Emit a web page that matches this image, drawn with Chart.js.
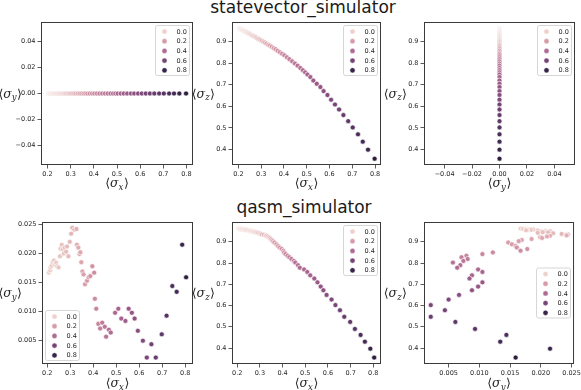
<!DOCTYPE html>
<html>
<head>
<meta charset="utf-8">
<script src="https://cdn.jsdelivr.net/npm/chart.js@4/dist/chart.umd.min.js"></script>
<style>
  body { margin: 0; background: #fff; width: 581px; height: 390px; overflow: hidden; position: relative; font-family: "DejaVu Sans"; }
  .title { position: absolute; font-size: 17px; line-height: 1; color: #1a1a1a; transform: translateX(-50%); white-space: nowrap; }
  canvas { position: absolute; }
</style>
</head>
<body>
<div class="title" style="left:303px; top:-1px">statevector_simulator</div>
<div class="title" style="left:304px; top:199px">qasm_simulator</div>
<script>
// hue parameter, shared by both simulators
const hueT = [0.000, 0.010, 0.013, 0.015, 0.018, 0.022, 0.025, 0.029, 0.034, 0.038, 0.042, 0.046, 0.052, 0.056, 0.062, 0.067,
  0.073, 0.078, 0.085, 0.091, 0.098, 0.105, 0.112, 0.120, 0.127, 0.136, 0.144, 0.154, 0.162, 0.172, 0.183, 0.193,
  0.204, 0.217, 0.228, 0.241, 0.255, 0.269, 0.283, 0.298, 0.314, 0.330, 0.347, 0.364, 0.381, 0.396, 0.410, 0.424,
  0.442, 0.461, 0.482, 0.504, 0.524, 0.547, 0.570, 0.594, 0.619, 0.645, 0.675, 0.703, 0.735, 0.764, 0.797, 0.837];

// statevector_simulator
const svX = [0.205, 0.207, 0.209, 0.211, 0.213, 0.216, 0.218, 0.221, 0.224, 0.227, 0.230, 0.233, 0.237, 0.240, 0.244, 0.248,
  0.252, 0.256, 0.261, 0.265, 0.270, 0.275, 0.280, 0.286, 0.291, 0.297, 0.303, 0.310, 0.316, 0.323, 0.331, 0.338,
  0.346, 0.355, 0.363, 0.372, 0.382, 0.392, 0.402, 0.413, 0.424, 0.436, 0.448, 0.460, 0.472, 0.483, 0.493, 0.503,
  0.516, 0.529, 0.544, 0.560, 0.574, 0.591, 0.607, 0.624, 0.642, 0.661, 0.682, 0.702, 0.725, 0.746, 0.769, 0.798];
const svY = [0, 0, 0, 0, 0, 0, 0, 0, 0, 0, 0, 0, 0, 0, 0, 0,
  0, 0, 0, 0, 0, 0, 0, 0, 0, 0, 0, 0, 0, 0, 0, 0,
  0, 0, 0, 0, 0, 0, 0, 0, 0, 0, 0, 0, 0, 0, 0, 0,
  0, 0, 0, 0, 0, 0, 0, 0, 0, 0, 0, 0, 0, 0, 0, 0];
const svZ = [0.960, 0.959, 0.958, 0.957, 0.956, 0.954, 0.953, 0.951, 0.950, 0.948, 0.946, 0.945, 0.942, 0.941, 0.938, 0.936,
  0.934, 0.931, 0.928, 0.926, 0.923, 0.920, 0.917, 0.913, 0.910, 0.907, 0.903, 0.899, 0.895, 0.890, 0.885, 0.881,
  0.875, 0.869, 0.864, 0.857, 0.850, 0.843, 0.836, 0.827, 0.818, 0.808, 0.798, 0.788, 0.777, 0.767, 0.757, 0.747,
  0.735, 0.719, 0.704, 0.689, 0.670, 0.652, 0.630, 0.608, 0.585, 0.559, 0.531, 0.502, 0.470, 0.436, 0.399, 0.357];

// qasm_simulator
const qX = [0.207, 0.212, 0.214, 0.219, 0.223, 0.229, 0.233, 0.239, 0.243, 0.249, 0.255, 0.258, 0.263, 0.268, 0.272, 0.276,
  0.282, 0.286, 0.292, 0.298, 0.304, 0.309, 0.318, 0.327, 0.329, 0.335, 0.340, 0.344, 0.348, 0.353, 0.358, 0.364,
  0.373, 0.380, 0.387, 0.396, 0.404, 0.407, 0.413, 0.422, 0.430, 0.439, 0.450, 0.456, 0.468, 0.476, 0.495, 0.509,
  0.522, 0.540, 0.554, 0.568, 0.580, 0.594, 0.616, 0.633, 0.653, 0.672, 0.698, 0.719, 0.744, 0.763, 0.787, 0.804];
const qY = [0.0167, 0.0171, 0.0176, 0.0179, 0.0185, 0.0188, 0.0181, 0.0184, 0.0178, 0.0176, 0.0195, 0.0208, 0.0215, 0.0207, 0.0200, 0.0210,
  0.0203, 0.0212, 0.0195, 0.0220, 0.0234, 0.0244, 0.0241, 0.0242, 0.0215, 0.0210, 0.0199, 0.0202, 0.0185, 0.0169, 0.0164, 0.0147,
  0.0153, 0.0159, 0.0161, 0.0178, 0.0167, 0.0122, 0.0105, 0.0079, 0.0071, 0.0081, 0.0074, 0.0057, 0.0069, 0.0064, 0.0098, 0.0105,
  0.0088, 0.0084, 0.0105, 0.0098, 0.0088, 0.0067, 0.0050, 0.0021, 0.0044, 0.0021, 0.0061, 0.0093, 0.0144, 0.0134, 0.0215, 0.0159];
const qZ = [0.962, 0.961, 0.960, 0.960, 0.959, 0.958, 0.957, 0.956, 0.955, 0.954, 0.953, 0.952, 0.950, 0.949, 0.948, 0.947,
  0.945, 0.944, 0.942, 0.940, 0.937, 0.935, 0.933, 0.930, 0.928, 0.925, 0.921, 0.918, 0.913, 0.908, 0.903, 0.897,
  0.888, 0.880, 0.873, 0.866, 0.858, 0.850, 0.842, 0.834, 0.827, 0.819, 0.810, 0.802, 0.790, 0.778, 0.770, 0.758,
  0.742, 0.727, 0.709, 0.689, 0.672, 0.650, 0.628, 0.602, 0.578, 0.547, 0.523, 0.490, 0.462, 0.430, 0.397, 0.355];

// ticks and legend entries
const legendValues = [0.0, 0.2, 0.4, 0.6, 0.8];
const ticksSigma = [0.2, 0.3, 0.4, 0.5, 0.6, 0.7, 0.8];
const ticksZ = [0.4, 0.5, 0.6, 0.7, 0.8, 0.9];
const ticksZero = [-0.04, -0.02, 0, 0.02, 0.04];
const ticksSmall = [0.005, 0.010, 0.015, 0.020, 0.025];

const tMin = Math.min(...hueT), tMax = Math.max(...hueT);

// seaborn default cubehelix map (light=.85 -> dark=.15)
function hueColor(v) {
  const f = (v - tMin) / (tMax - tMin);
  const x = 0.85 + (0.15 - 0.85) * f;
  const a = 0.8 * x * (1 - x) / 2;
  const phi = 2 * Math.PI * (0.4 * x);
  const c = Math.cos(phi), s = Math.sin(phi);
  const ch = [x + a * (-0.14861 * c + 1.78277 * s), x + a * (-0.29227 * c - 0.90649 * s), x + a * (1.97294 * c)];
  const rgb = ch.map(k => Math.round(Math.max(0, Math.min(1, k)) * 255));
  return `rgb(${rgb[0]},${rgb[1]},${rgb[2]})`;
}

const fmt = d => v => (v < 0 ? '\u2212' : '') + Math.abs(v).toFixed(d);

function axis(range, ticks, digits, dir, size) {
  return {
    type: 'linear',
    min: range[0],
    max: range[1],
    afterBuildTicks: s => { s.ticks = ticks.map(v => ({ value: v })); },
    afterFit: s => { if (dir === 'x') s.height = size; else s.width = size; },
    grid: { display: true, drawOnChartArea: false, drawTicks: true, tickLength: 3.5, tickWidth: 0.8, tickColor: '#333' },
    border: { display: false },
    ticks: { callback: fmt(digits), autoSkip: false, maxRotation: 0, padding: 2, color: '#262626', font: { family: 'DejaVu Sans', size: 6.5 } }
  };
}

function mathLabel(ctx, sub, x, y, align) {
  const br = '12.5px "DejaVu Sans"', sg = 'italic 12.5px "DejaVu Serif"', sb = 'italic 8.5px "DejaVu Serif"';
  ctx.font = br; const w1 = ctx.measureText('\u27e8').width, w4 = ctx.measureText('\u27e9').width;
  ctx.font = sg; const w2 = ctx.measureText('\u03c3').width;
  ctx.font = sb; const w3 = ctx.measureText(sub).width;
  const total = w1 + w2 + w3 + w4 + 0.5;
  let sx = align === 'right' ? x - total : x - total / 2;
  const base = y + 4;
  ctx.fillStyle = '#262626';
  ctx.textAlign = 'left';
  ctx.textBaseline = 'alphabetic';
  ctx.font = br; ctx.fillText('\u27e8', sx, base); sx += w1;
  ctx.font = sg; ctx.fillText('\u03c3', sx, base); sx += w2;
  ctx.font = sb; ctx.fillText(sub, sx, base + 2.5); sx += w3 + 0.5;
  ctx.font = br; ctx.fillText('\u27e9', sx, base);
}

function drawLegend(ctx, area, loc) {
  const w = 34, h = 50;
  let lx = area.right - 3.5 - w, ly = area.top + 3.5;
  if (loc === 'll') { lx = area.left + 3.5; ly = area.bottom - 3.5 - h; }
  if (loc === 'cr') { ly = (area.top + area.bottom) / 2 - h / 2; }
  ctx.save();
  ctx.beginPath();
  ctx.roundRect(lx, ly, w, h, 2);
  ctx.fillStyle = 'rgba(255,255,255,0.8)';
  ctx.fill();
  ctx.strokeStyle = '#cccccc';
  ctx.lineWidth = 0.8;
  ctx.stroke();
  legendValues.forEach((v, i) => {
    const cy = ly + 6 + i * 9.7;
    ctx.beginPath();
    ctx.arc(lx + 9, cy, 2.6, 0, Math.PI * 2);
    ctx.fillStyle = hueColor(v);
    ctx.fill();
    ctx.strokeStyle = '#fff';
    ctx.lineWidth = 0.5;
    ctx.stroke();
    ctx.fillStyle = '#262626';
    ctx.font = '6.5px "DejaVu Sans"';
    ctx.textAlign = 'left';
    ctx.textBaseline = 'middle';
    ctx.fillText(v.toFixed(1), lx + 21, cy + 0.5);
  });
  ctx.restore();
}

function decor(p) {
  return {
    id: 'decor',
    afterDraw(chart) {
      const ctx = chart.ctx, a = chart.chartArea;
      ctx.save();
      ctx.strokeStyle = '#3a3a3a';
      ctx.lineWidth = 1;
      ctx.strokeRect(a.left + 0.5, a.top + 0.5, a.right - a.left - 1, a.bottom - a.top - 1);
      drawLegend(ctx, a, p.leg);
      mathLabel(ctx, p.xl, (a.left + a.right) / 2, a.bottom + p.xOff, 'center');
      mathLabel(ctx, p.yl, a.left - p.yOff, (a.top + a.bottom) / 2, 'right');
      ctx.restore();
    }
  };
}

function panel(p) {
  const L = 45, T = 6, R = 8, B = 36;
  const [bx, by, bw, bh] = p.box;
  const c = document.createElement('canvas');
  const w = bw + L + R, h = bh + T + B;
  c.width = w; c.height = h;
  c.style.left = (bx - L) + 'px';
  c.style.top = (by - T) + 'px';
  c.style.width = w + 'px';
  c.style.height = h + 'px';
  document.body.appendChild(c);
  new Chart(c, {
    type: 'scatter',
    data: {
      datasets: [{
        data: p.xs.map((x, i) => ({ x: x, y: p.ys[i] })),
        backgroundColor: hueT.map(hueColor),
        borderColor: '#ffffff',
        borderWidth: 0.65,
        pointRadius: 2.5,
        pointHoverRadius: 2.5
      }]
    },
    options: {
      responsive: false,
      animation: false,
      devicePixelRatio: 1,
      layout: { padding: { left: 0, top: T, right: R, bottom: 0 } },
      plugins: { legend: { display: false }, tooltip: { enabled: false } },
      scales: {
        x: axis(p.xr, p.xt, p.xd, 'x', B),
        y: axis(p.yr, p.yt, p.yd, 'y', L)
      }
    },
    plugins: [decor(p)]
  });
}

const panels = [
  { box: [41, 22, 152, 143], xs: svX, ys: svY, xr: [0.172, 0.828], yr: [-0.055, 0.055], xt: ticksSigma, yt: ticksZero, xd: 1, yd: 2, xl: 'x', yl: 'y', xOff: 18, yOff: 19, leg: 'ur' },
  { box: [232, 22, 149, 143], xs: svX, ys: svZ, xr: [0.172, 0.826], yr: [0.328, 0.990], xt: ticksSigma, yt: ticksZ, xd: 1, yd: 1, xl: 'x', yl: 'z', xOff: 18, yOff: 17, leg: 'ur' },
  { box: [424, 22, 151, 143], xs: svY, ys: svZ, xr: [-0.055, 0.055], yr: [0.328, 0.990], xt: ticksZero, yt: ticksZ, xd: 2, yd: 1, xl: 'y', yl: 'z', xOff: 18, yOff: 17, leg: 'ur' },
  { box: [42, 222, 151, 142], xs: qX, ys: qY, xr: [0.177, 0.834], yr: [0.0010, 0.0254], xt: ticksSigma, yt: ticksSmall, xd: 1, yd: 3, xl: 'x', yl: 'y', xOff: 19, yOff: 20, leg: 'll' },
  { box: [232, 222, 149, 142], xs: qX, ys: qZ, xr: [0.177, 0.834], yr: [0.325, 0.993], xt: ticksSigma, yt: ticksZ, xd: 1, yd: 1, xl: 'x', yl: 'z', xOff: 19, yOff: 17, leg: 'ur' },
  { box: [424, 222, 151, 142], xs: qY, ys: qZ, xr: [0.0010, 0.0254], yr: [0.325, 0.993], xt: ticksSmall, yt: ticksZ, xd: 3, yd: 1, xl: 'y', yl: 'z', xOff: 19, yOff: 17, leg: 'cr' }
];

panels.forEach(panel);
</script>
</body>
</html>
